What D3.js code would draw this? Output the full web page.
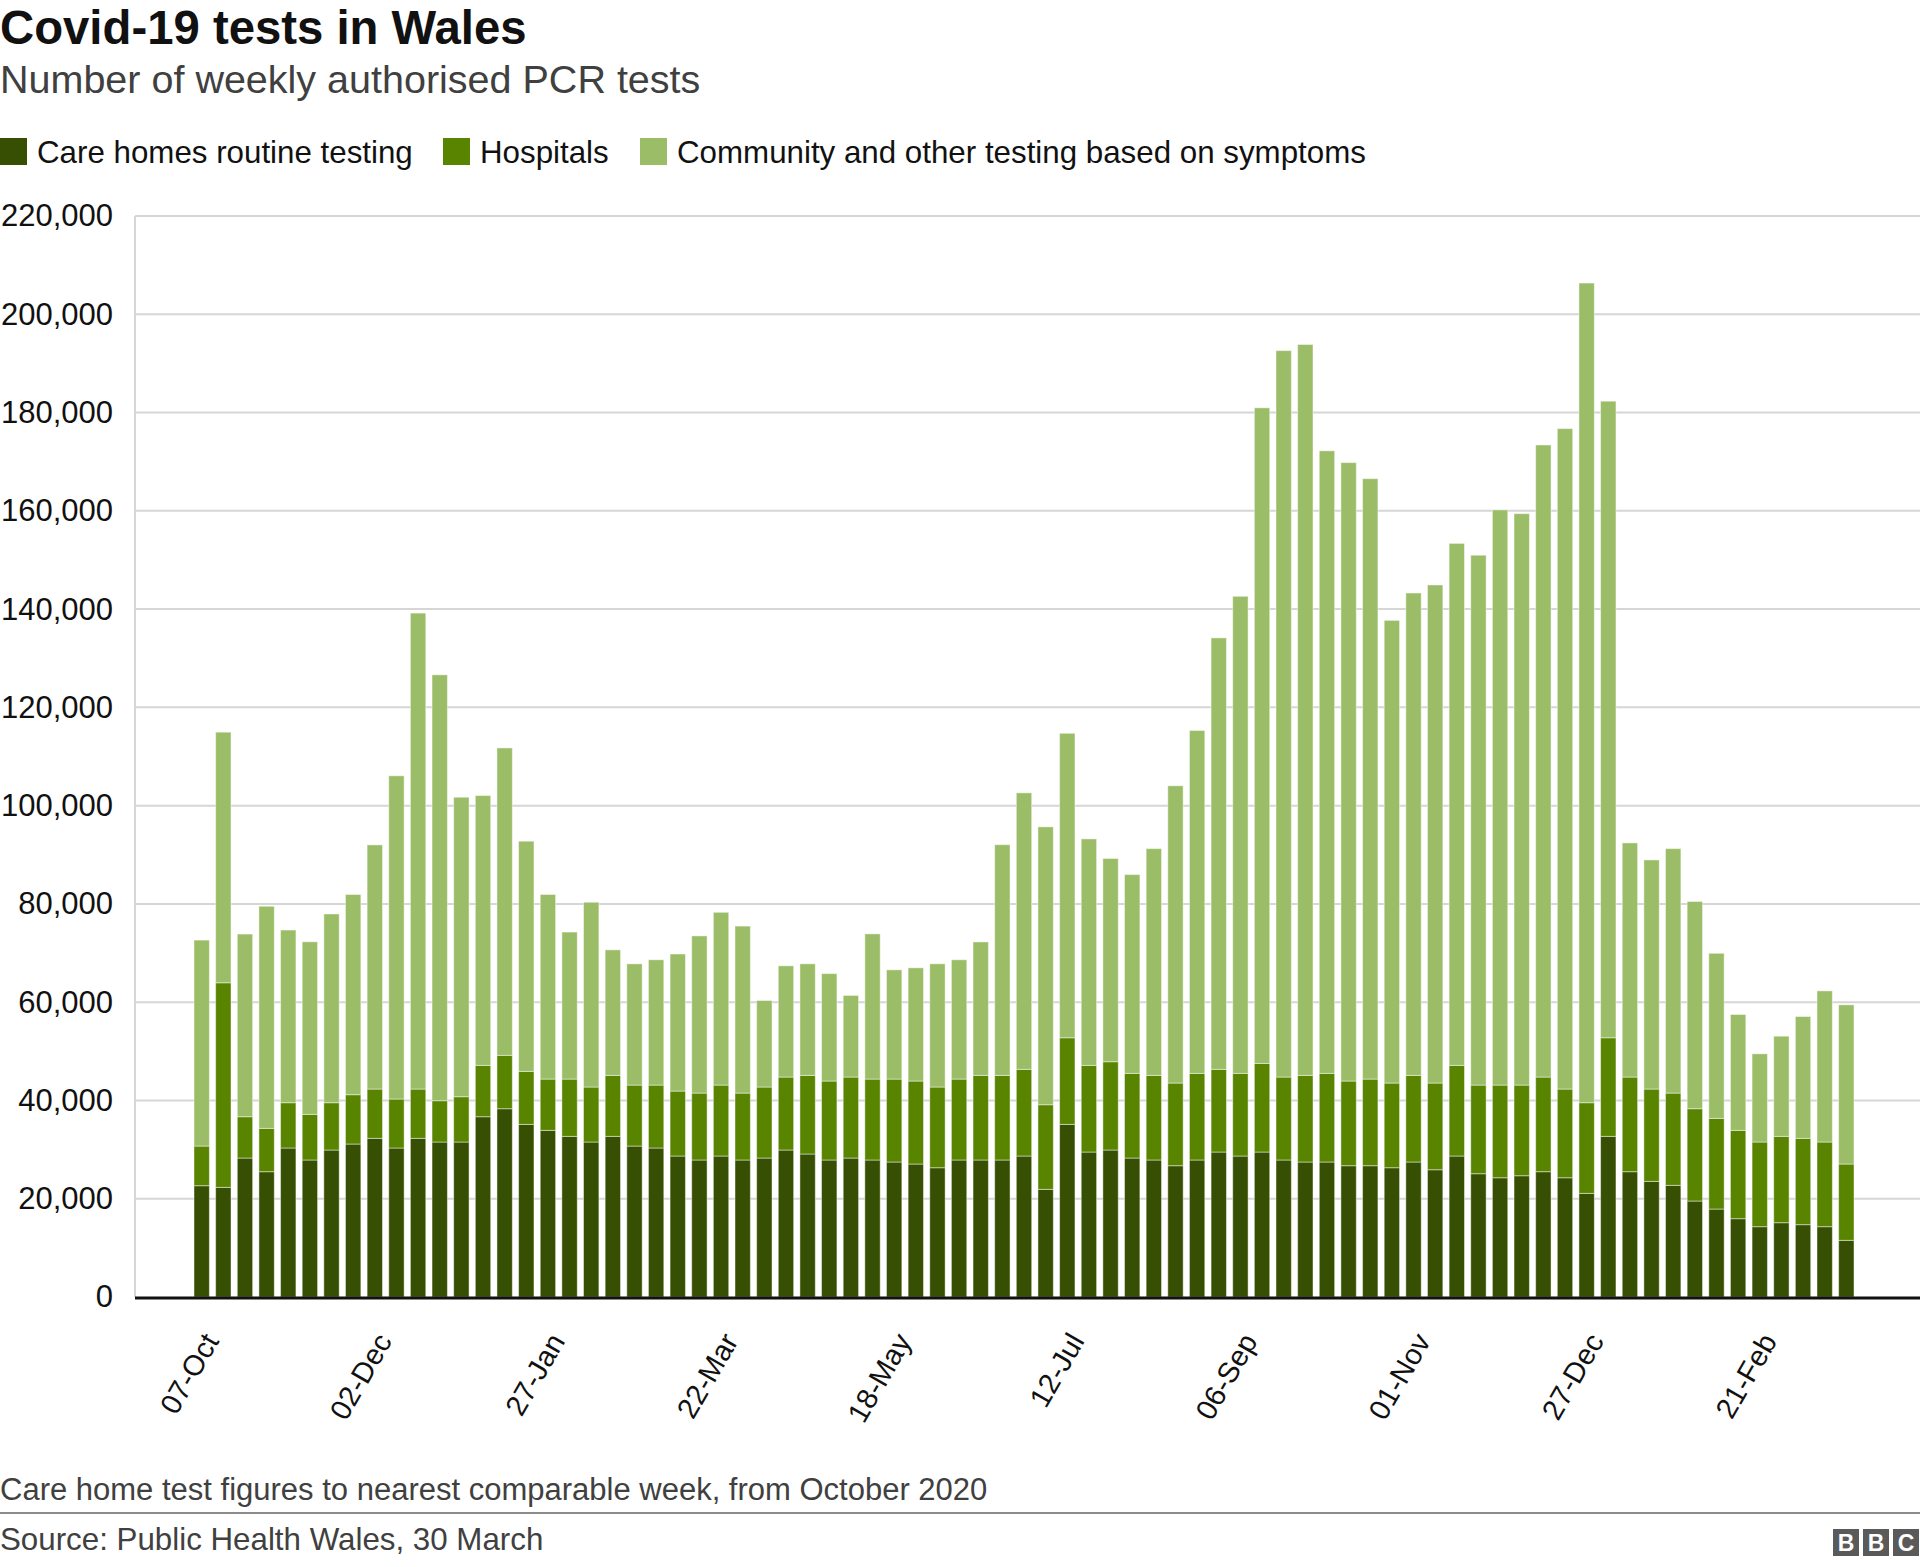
<!DOCTYPE html>
<html>
<head>
<meta charset="utf-8">
<script src="https://cdn.jsdelivr.net/npm/d3@7"></script>
<style>
  html, body { margin: 0; padding: 0; background: #fff; }
  svg { display: block; font-family: "Liberation Sans", Arial, Helvetica, sans-serif; }
</style>
</head>
<body>
<svg id="chart" width="1920" height="1567"></svg>
<script>
// ---- DATA (weekly authorised PCR tests) ----
const careHomes = [22650,22310,28280,25500,30320,27880,29910,31130,32290,30320,32290,31540,31540,36690,38320,35130,33910,32690,31540,32690,30720,30320,28690,27880,28690,27880,28280,29910,29100,27880,28280,27880,27470,27060,26310,27880,27880,27880,28690,21910,35130,29500,29910,28280,27880,26720,27880,29500,28690,29500,27880,27470,27470,26720,26720,26310,27470,25900,28690,25090,24270,24680,25500,24270,21090,32690,25500,23530,22720,19530,17900,15940,14310,15120,14720,14310,11530];
const hospitals = [8070,41640,8410,8820,9220,9290,9630,10040,10030,9970,10030,8410,9220,10450,10860,10790,10440,11660,11190,12410,12410,12810,13220,13620,14440,13620,14450,14850,16000,16070,16480,16470,16880,16890,16420,16470,17220,17220,17640,17220,17630,17640,17970,17230,17220,16820,17630,16830,16820,18040,16880,17630,18040,17230,17630,17230,17630,17640,18450,18040,18860,18450,19260,18050,18450,20070,19260,18790,18780,18790,18450,17970,17230,17570,17570,17230,15530];
const community = [41910,51000,37170,45200,35140,35120,38410,40740,49690,65780,96860,86670,60950,54910,62560,46840,37560,29920,37610,25550,24670,25500,27890,31990,35160,33980,17610,22640,22710,21870,16610,29550,22230,23040,25080,24280,27160,46950,56270,56550,61960,46090,41360,40460,46150,60500,69780,87810,97090,133420,147840,148750,126700,125860,122190,94160,98170,101370,106230,107830,117060,116290,128640,134410,166810,129550,47650,46630,49750,42170,33600,23580,17950,20390,24790,30760,32400];
const seriesNames = ["Care homes routine testing", "Hospitals", "Community and other testing based on symptoms"];
const seriesColors = ["#364f02", "#588400", "#9bbd67"];
const tickLabels = ["07-Oct","02-Dec","27-Jan","22-Mar","18-May","12-Jul","06-Sep","01-Nov","27-Dec","21-Feb"];
const tickEvery = 8;
const yTicks = [0,20000,40000,60000,80000,100000,120000,140000,160000,180000,200000,220000];

// ---- CHART ----
const svg = d3.select("#chart");
const W = 1920;
const plotLeft = 135, plotRight = 1920, plotTop = 216, plotBottom = 1297;

const rows = careHomes.map((v, i) => ({ i, care: v, hosp: hospitals[i], comm: community[i] }));
const keys = ["care", "hosp", "comm"];
const stacked = d3.stack().keys(keys)(rows);

const x = d3.scaleBand().domain(rows.map(d => d.i)).range([194, 1854]).paddingInner(0.29).paddingOuter(0);
const y = d3.scaleLinear().domain([0, 220000]).range([plotBottom, plotTop]);

// Title & subtitle
svg.append("text").attr("x", 0).attr("y", 44).attr("font-size", 47.3).attr("font-weight", "bold").attr("fill", "#111")
  .text("Covid-19 tests in Wales");
svg.append("text").attr("x", 0).attr("y", 93).attr("font-size", 39.5).attr("fill", "#404040")
  .text("Number of weekly authorised PCR tests");

// Legend
const legendX = [0, 443, 640];
const lg = svg.append("g");
seriesNames.forEach((name, k) => {
  lg.append("rect").attr("x", legendX[k]).attr("y", 138).attr("width", 27).attr("height", 27).attr("fill", seriesColors[k]);
  lg.append("text").attr("x", legendX[k] + 37).attr("y", 152).attr("dy", "0.35em").attr("font-size", 31.3).attr("fill", "#111").text(name);
});

// Grid lines
const grid = svg.append("g");
grid.selectAll("line").data(yTicks.filter(t => t > 0)).join("line")
  .attr("x1", plotLeft).attr("x2", plotRight)
  .attr("y1", d => y(d)).attr("y2", d => y(d))
  .attr("stroke", "#d6d6d6").attr("stroke-width", 2);
// left vertical axis line
svg.append("line").attr("x1", plotLeft).attr("x2", plotLeft).attr("y1", y(220000)).attr("y2", plotBottom)
  .attr("stroke", "#d6d6d6").attr("stroke-width", 2);

// Y axis labels
const yAxis = d3.axisLeft(y).tickValues(yTicks).tickSize(0).tickPadding(0).tickFormat(d3.format(","));
const yg = svg.append("g").attr("transform", `translate(113,0)`).call(yAxis);
yg.select(".domain").remove();
yg.selectAll("text").attr("font-size", 31).attr("fill", "#111").attr("font-family", "Liberation Sans, Arial, sans-serif");

// Bars
const barG = svg.append("g");
stacked.forEach((layer, k) => {
  barG.append("g").attr("fill", seriesColors[k])
    .selectAll("rect").data(layer).join("rect")
    .attr("x", (d, i) => x(i))
    .attr("width", x.bandwidth())
    .attr("y", d => y(d[1]))
    .attr("height", d => y(d[0]) - y(d[1]))
    .attr("stroke", "#ffffff").attr("stroke-opacity", 0.45).attr("stroke-width", 1);
});

// Baseline
svg.append("line").attr("x1", plotLeft).attr("x2", plotRight).attr("y1", plotBottom + 1).attr("y2", plotBottom + 1)
  .attr("stroke", "#111").attr("stroke-width", 3);

// X tick labels
const xt = svg.append("g");
tickLabels.forEach((lab, j) => {
  const idx = j * tickEvery;
  const cx = x(idx) + x.bandwidth() / 2;
  xt.append("text")
    .attr("transform", `translate(${cx + 18},${plotBottom + 44}) rotate(-60)`)
    .attr("text-anchor", "end").attr("font-size", 29).attr("fill", "#111").text(lab);
});

// Footer
svg.append("text").attr("x", 0).attr("y", 1500).attr("font-size", 31).attr("fill", "#404040")
  .text("Care home test figures to nearest comparable week, from October 2020");
svg.append("line").attr("x1", 0).attr("x2", W).attr("y1", 1513).attr("y2", 1513).attr("stroke", "#8c8c8c").attr("stroke-width", 2);
svg.append("text").attr("x", 0).attr("y", 1550).attr("font-size", 31.3).attr("fill", "#404040")
  .text("Source: Public Health Wales, 30 March");

// BBC logo
const logo = svg.append("g").attr("transform", "translate(1833,1529)");
["B","B","C"].forEach((ch, i) => {
  logo.append("rect").attr("x", i * 30).attr("y", 0).attr("width", 26).attr("height", 27).attr("fill", "#5a5a5a");
  logo.append("text").attr("x", i * 30 + 13).attr("y", 22).attr("text-anchor", "middle")
    .attr("font-size", 23).attr("font-weight", "bold").attr("fill", "#fff").text(ch);
});
</script>
</body>
</html>
